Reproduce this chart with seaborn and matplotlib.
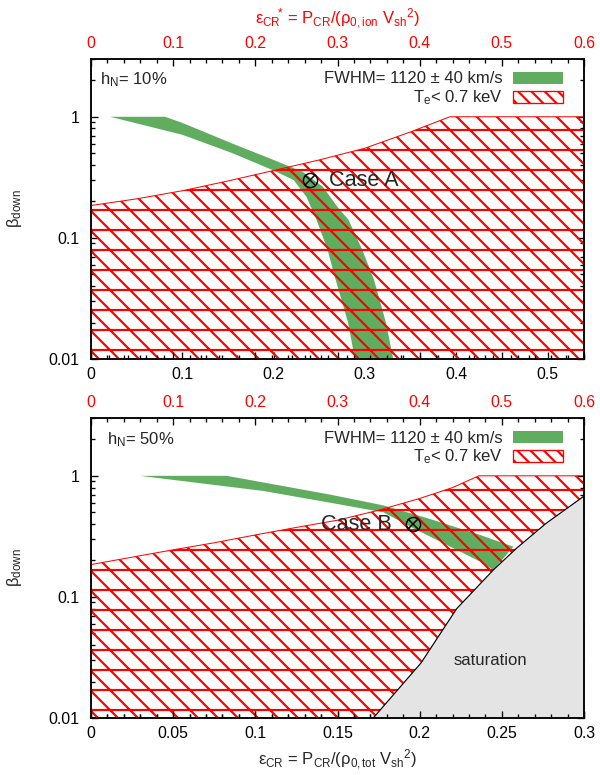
import matplotlib
matplotlib.use("Agg")
import matplotlib.pyplot as plt
from matplotlib.patches import Patch
from matplotlib.ticker import FixedLocator, MultipleLocator, LogLocator, NullFormatter, FuncFormatter
import seaborn as sns
import pandas as pd

# ---- data ----
# upper panel, h_N = 10 %
top_te_eps = [0.0, 0.05, 0.10, 0.15, 0.20, 0.25, 0.30, 0.35, 0.393, 0.54]
top_te_beta = [0.185, 0.21, 0.245, 0.295, 0.36, 0.44, 0.55, 0.75, 1.0, 1.0]
top_band_hi_eps = [0.0, 0.081, 0.10, 0.155, 0.20, 0.232, 0.254, 0.270, 0.282, 0.297, 0.310, 0.323, 0.331]
top_band_hi_beta = [1.0, 1.0, 0.89, 0.60, 0.44, 0.35, 0.264, 0.18, 0.141, 0.08, 0.045, 0.02, 0.01]
top_band_lo_eps = [0.0, 0.021, 0.10, 0.155, 0.20, 0.222, 0.236, 0.247, 0.259, 0.268, 0.2815, 0.289]
top_band_lo_beta = [1.0, 1.0, 0.71, 0.50, 0.36, 0.30, 0.218, 0.141, 0.08, 0.045, 0.02, 0.01]
top_case = (0.24, 0.30)

# lower panel, h_N = 50 %
bot_te_eps = [0.0, 0.025, 0.05, 0.075, 0.10, 0.125, 0.15, 0.175, 0.20, 0.22, 0.236, 0.30]
bot_te_beta = [0.185, 0.213, 0.245, 0.28, 0.325, 0.375, 0.43, 0.52, 0.65, 0.80, 1.0, 1.0]
bot_sat_eps = [0.1717, 0.2008, 0.2225, 0.2448, 0.259, 0.277, 0.30]
bot_sat_beta = [0.01, 0.0285, 0.08, 0.167, 0.253, 0.406, 0.68]
bot_band_hi_eps = [0.0, 0.0826, 0.1454, 0.1779, 0.2063, 0.2367, 0.257]
bot_band_hi_beta = [1.0, 1.0, 0.70, 0.57, 0.44, 0.325, 0.26]
bot_band_lo_eps = [0.0, 0.0298, 0.1048, 0.1454, 0.1779, 0.196, 0.2164, 0.2367, 0.2448]
bot_band_lo_beta = [1.0, 1.0, 0.75, 0.60, 0.50, 0.37, 0.269, 0.196, 0.167]
bot_case = (0.1957, 0.40)

GREEN = "#60ad60"
RED = "#ff0000"
GRAY = "#e4e4e4"
HATCH = "-" + "\\" * 2

sns.set_theme(style="ticks", rc={"axes.grid": False})
plt.rcParams["font.family"] = ["Liberation Sans", "DejaVu Sans"]
plt.rcParams["mathtext.fontset"] = "custom"
plt.rcParams["mathtext.rm"] = "Liberation Sans"
plt.rcParams["mathtext.it"] = "Liberation Sans"
plt.rcParams["mathtext.default"] = "regular"
plt.rcParams["hatch.linewidth"] = 1.3
plt.rcParams["axes.linewidth"] = 0.9
plt.rcParams["axes.edgecolor"] = "black"

fmt = FuncFormatter(lambda v, p: "%g" % round(v, 3))


def band_polygon(hi_x, hi_y, lo_x, lo_y):
    return pd.DataFrame({"eps": list(hi_x) + list(lo_x)[::-1],
                         "beta": list(hi_y) + list(lo_y)[::-1]})


def style_axes(ax, xmax, xmajor, xminor, ymax=3.0):
    ax.set_yscale("log")
    ax.set_xlim(0, xmax)
    ax.set_ylim(0.01, ymax)
    ax.yaxis.set_major_locator(FixedLocator([0.01, 0.1, 1]))
    ax.yaxis.set_major_formatter(FuncFormatter(lambda v, p: "%g" % v))
    ax.yaxis.set_minor_locator(LogLocator(base=10, subs=range(2, 10)))
    ax.yaxis.set_minor_formatter(NullFormatter())
    ax.xaxis.set_major_locator(MultipleLocator(xmajor))
    ax.xaxis.set_minor_locator(MultipleLocator(xminor))
    ax.xaxis.set_major_formatter(fmt)
    ax.tick_params(which="both", direction="in", top=True, right=True, colors="black",
                   labelsize=9.5, width=0.8)
    ax.tick_params(which="major", length=4)
    ax.tick_params(which="minor", length=2.2)
    ax.tick_params(axis="y", pad=7)
    ax.tick_params(axis="x", pad=5)
    ax.set_ylabel(r"β$_{down}$", fontsize=10)
    ax.yaxis.set_label_coords(-0.135, 0.5)
    for s in ax.spines.values():
        s.set_visible(True)


def top_axis(ax, top_label=None):
    ax2 = ax.twiny()
    ax2.set_xlim(0, 0.6)
    ax2.xaxis.set_major_locator(MultipleLocator(0.1))
    ax2.xaxis.set_minor_locator(MultipleLocator(0.02))
    ax2.xaxis.set_major_formatter(fmt)
    ax2.tick_params(which="both", direction="in", top=True, bottom=True,
                    labeltop=True, labelbottom=False, color="black",
                    labelcolor=RED, labelsize=9.5, width=0.8, pad=5)
    ax2.tick_params(which="major", length=4)
    ax2.tick_params(which="minor", length=2.2)
    ax2.grid(False)
    if top_label:
        ax2.set_xlabel(top_label, color=RED, fontsize=10)
        ax2.xaxis.set_label_coords(0.5, 1.115)
    return ax2


def legend(ax):
    handles = [Patch(facecolor=GREEN, edgecolor="none"),
               Patch(facecolor="white", edgecolor=RED, hatch="\\" * 3, linewidth=0.8)]
    labels = ["FWHM= 1120 ± 40 km/s", "T$_e$< 0.7 keV"]
    ax.legend(handles, labels, loc="upper right", bbox_to_anchor=(0.982, 1.0),
              frameon=False, markerfirst=False, fontsize=10, handlelength=3.0,
              handleheight=0.75, labelspacing=0.12, handletextpad=0.6, borderaxespad=0.35)


def case_marker(ax, xy):
    ax.plot([xy[0]], [xy[1]], marker="o", ms=8.5, mfc="none", mec="black", mew=0.9, zorder=6)
    ax.plot([xy[0]], [xy[1]], marker="x", ms=5.5, mec="black", mew=0.9, zorder=6)


fig = plt.figure(figsize=(5, 775 / 120), dpi=120)

# ---------------- upper panel ----------------
ax = fig.add_axes([0.1517, 0.5368, 0.8217, 0.3871])
band = band_polygon(top_band_hi_eps, top_band_hi_beta, top_band_lo_eps, top_band_lo_beta)
ax.fill(band["eps"], band["beta"], color=GREEN, lw=0, zorder=2)
te = pd.DataFrame({"eps": top_te_eps, "beta": top_te_beta})
hatch_x = list(te["eps"]) + [top_te_eps[-1], 0.0]
hatch_y = list(te["beta"]) + [0.01, 0.01]
ax.fill(hatch_x, hatch_y, facecolor="none", edgecolor=RED, hatch=HATCH, lw=0, zorder=3)
sns.lineplot(data=te, x="eps", y="beta", color=RED, lw=0.6, ax=ax, zorder=4)
case_marker(ax, top_case)
ax.text(0.261, top_case[1], "Case A", fontsize=13, va="center", ha="left", zorder=6)
ax.text(0.018, 0.93, "h$_N$= 10%", transform=ax.transAxes, fontsize=10, va="center")
style_axes(ax, 0.54, 0.1, 0.02)
ax.set_xlabel("")
legend(ax)
top_axis(ax, r"$ε_{CR}\!{}^{*}$ = P$_{CR}$/(ρ$_{0,ion}$ V$_{sh}$$^2$)")

# ---------------- lower panel ----------------
ax = fig.add_axes([0.1517, 0.0735, 0.8217, 0.3871])
band = band_polygon(bot_band_hi_eps, bot_band_hi_beta, bot_band_lo_eps, bot_band_lo_beta)
ax.fill(band["eps"], band["beta"], color=GREEN, lw=0, zorder=2)
sat = pd.DataFrame({"eps": bot_sat_eps, "beta": bot_sat_beta})
ax.fill(list(sat["eps"]) + [bot_sat_eps[-1]], list(sat["beta"]) + [0.01],
        color=GRAY, lw=0, zorder=1)
sns.lineplot(data=sat, x="eps", y="beta", color="black", lw=0.7, ax=ax, zorder=4)
te = pd.DataFrame({"eps": bot_te_eps, "beta": bot_te_beta})
hatch_x = list(te["eps"]) + list(sat["eps"])[::-1] + [0.0]
hatch_y = list(te["beta"]) + list(sat["beta"])[::-1] + [0.01]
ax.fill(hatch_x, hatch_y, facecolor="none", edgecolor=RED, hatch=HATCH, lw=0, zorder=3)
sns.lineplot(data=te, x="eps", y="beta", color=RED, lw=0.6, ax=ax, zorder=4)
case_marker(ax, bot_case)
ax.text(0.183, bot_case[1], "Case B", fontsize=13, va="center", ha="right", zorder=6)
ax.text(0.243, 0.030, "saturation", fontsize=10, va="center", ha="center", zorder=5)
ax.text(0.032, 0.927, "h$_N$= 50%", transform=ax.transAxes, fontsize=10, va="center")
style_axes(ax, 0.3, 0.05, 0.01)
ax.set_xlabel("ε$_{CR}$ = P$_{CR}$/(ρ$_{0,tot}$ V$_{sh}$$^2$)", fontsize=10)
ax.xaxis.set_label_coords(0.5, -0.1)
legend(ax)
top_axis(ax)

fig.savefig("out.png", dpi=120)
